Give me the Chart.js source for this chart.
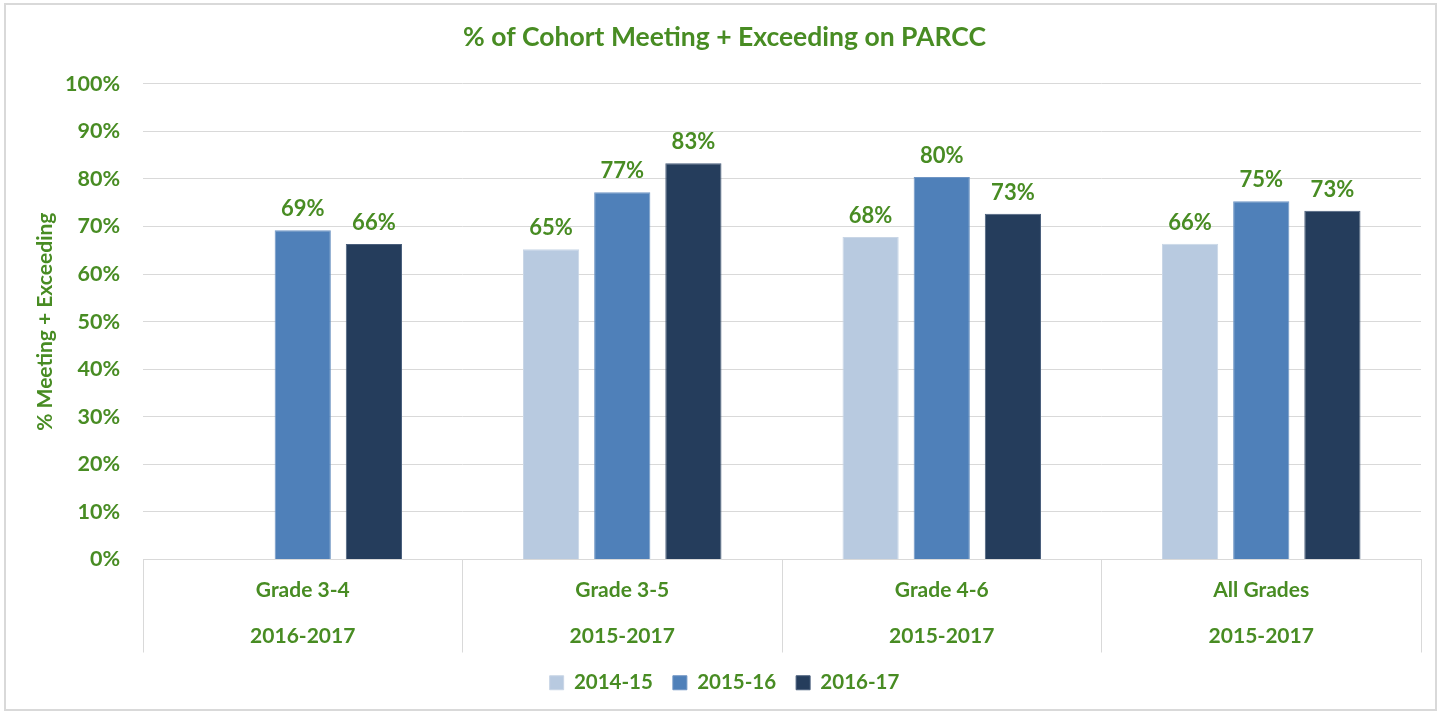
<!DOCTYPE html>
<html>
<head>
<meta charset="utf-8">
<script src="https://cdn.jsdelivr.net/npm/chart.js@4.4.1/dist/chart.umd.min.js"></script>
<style>
html,body{margin:0;padding:0;background:#fff;}
#wrap{position:absolute;left:0;top:0;width:1441px;height:714px;}
</style>
</head>
<body>
<div id="wrap"><canvas id="c" width="1441" height="714"></canvas></div>
<script>
const categories = [["Grade 3-4","2016-2017"],["Grade 3-5","2015-2017"],["Grade 4-6","2015-2017"],["All Grades","2015-2017"]];
const seriesNames = ["2014-15","2015-16","2016-17"];
const s2014 = [null, 65.2, 67.8, 66.4];
const s2015 = [69.2, 77.2, 80.4, 75.3];
const s2016 = [66.3, 83.3, 72.7, 73.3];
const yTicks = [0,10,20,30,40,50,60,70,80,90,100];
const yTitle = '% Meeting + Exceeding';

const GREEN = '#488c23';
const FONT = 'Lato, "Liberation Sans", sans-serif';
const colors = ['#b8cae0','#4f80b9','#253d5c'];
const borders = ['#c9d6e6','#6f95c4','#4a5f7c'];

const frame = {
  id:'frame',
  beforeDraw(chart){
    const ctx = chart.ctx;
    ctx.save();
    ctx.fillStyle='#fff';
    ctx.fillRect(0,0,chart.width,chart.height);
    ctx.strokeStyle='#d9d9d9';
    ctx.lineWidth=2;
    ctx.strokeRect(5,4,1431,706);
    ctx.restore();
  }
};
const valueLabels = {
  id:'valueLabels',
  afterDatasetsDraw(chart){
    const ctx = chart.ctx;
    ctx.save();
    ctx.font = 'bold 22px ' + FONT;
    ctx.fillStyle = GREEN;
    ctx.textAlign='center';
    ctx.textBaseline='alphabetic';
    chart.data.datasets.forEach((ds,i)=>{
      const meta = chart.getDatasetMeta(i);
      meta.data.forEach((bar,j)=>{
        const v = ds.data[j];
        if(v===null||v===undefined) return;
        ctx.fillText(Math.round(v)+'%', bar.x, bar.y-14);
      });
    });
    ctx.restore();
  }
};
const catLabels = {
  id:'catLabels',
  afterDraw(chart){
    const sx = chart.scales.x;
    const ca = chart.chartArea;
    const ctx = chart.ctx;
    ctx.save();
    ctx.font = 'bold 21px ' + FONT;
    ctx.fillStyle = GREEN;
    ctx.textAlign='center';
    ctx.textBaseline='middle';
    categories.forEach((lines,i)=>{
      const x = sx.getPixelForValue(i);
      ctx.fillText(lines[0], x, sx.top+31);
      ctx.fillText(lines[1], x, sx.top+77);
    });
    ctx.font = 'bold 21px ' + FONT;
    ctx.translate(45, (ca.top+ca.bottom)/2);
    ctx.rotate(-Math.PI/2);
    ctx.fillText(yTitle, 0, 0);
    ctx.restore();
  }
};

new Chart(document.getElementById('c'),{
  type:'bar',
  data:{
    labels:categories,
    datasets:[
      {label:seriesNames[0],data:s2014,backgroundColor:colors[0],borderColor:borders[0],borderWidth:1},
      {label:seriesNames[1],data:s2015,backgroundColor:colors[1],borderColor:borders[1],borderWidth:1},
      {label:seriesNames[2],data:s2016,backgroundColor:colors[2],borderColor:borders[2],borderWidth:1}
    ]
  },
  options:{
    responsive:false,
    animation:false,
    categoryPercentage:0.668,
    barPercentage:0.79,
    layout:{padding:{left:28,right:20,top:10,bottom:11}},
    plugins:{
      title:{display:true,text:'% of Cohort Meeting + Exceeding on PARCC',color:GREEN,
        font:{family:FONT,size:26.5,weight:'bold'},padding:{top:12,bottom:30}},
      legend:{position:'bottom',labels:{color:GREEN,boxWidth:14,boxHeight:14,padding:20,
        font:{family:FONT,size:20.5,weight:'bold'}}},
      tooltip:{enabled:false}
    },
    scales:{
      x:{
        grid:{display:true,drawOnChartArea:false,offset:true,tickLength:93,color:'#d9d9d9'},
        border:{display:true,color:'#d9d9d9'},
        ticks:{display:false}
      },
      y:{
        min:0,max:100,
        afterBuildTicks(scale){scale.ticks = yTicks.map(v=>({value:v}));},
        afterFit(scale){scale.width = 115;},
        grid:{color:'#d9d9d9',drawTicks:false},
        border:{display:false},
        ticks:{color:GREEN,padding:23,font:{family:FONT,size:21.5,weight:'bold'},callback:v=>v+'%'}
      }
    }
  },
  plugins:[frame,valueLabels,catLabels]
});
</script>
</body>
</html>
